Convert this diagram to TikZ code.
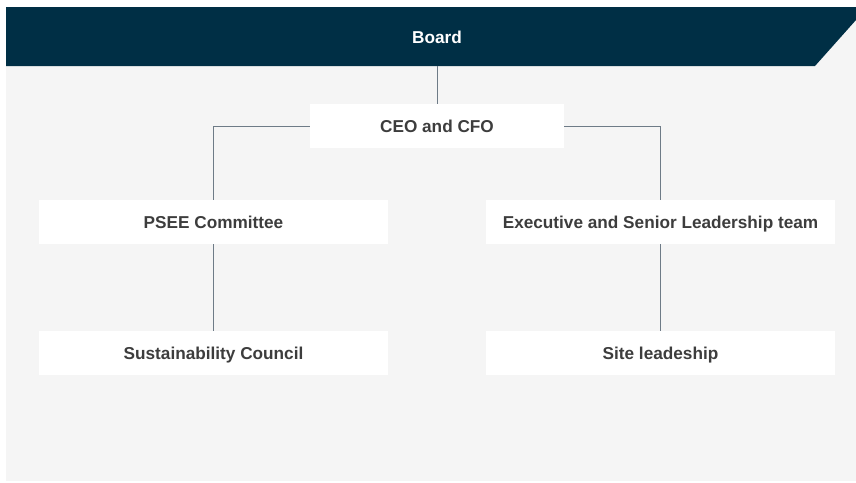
\documentclass[tikz,border=0pt]{standalone}
\usepackage{fontspec}
\setmainfont{Liberation Sans}
\definecolor{navy}{HTML}{002F45}
\definecolor{panel}{HTML}{F5F5F5}
\definecolor{linkline}{HTML}{6E7B87}
\definecolor{labeltext}{HTML}{3D3D3D}
\begin{document}
\begin{tikzpicture}[x=1pt,y=-1pt,
  label font/.style={font=\fontsize{17.2}{20}\selectfont\bfseries,
    text height=12.3pt, text depth=0pt},
  orgbox/.style={rectangle, fill=white, draw=none, minimum height=44pt,
    inner sep=0pt, text=labeltext, label font},
  wide/.style={orgbox, minimum width=349pt},
  link/.style={draw=linkline, line width=0.9pt}]
  \useasboundingbox (0,0) rectangle (856,482);
  % light panel
  \fill[panel] (6,7) rectangle (856,481);
  % banner with a cut top-right corner
  \fill[navy] (6,7) -- (856,7) -- (856,20) -- (815,66) -- (6,66) -- cycle;
  \node[text=white, inner sep=0pt, label font] (board) at (437,37) {Board};
  \coordinate (boardbase) at (437,66);
  % boxes
  \node[orgbox, minimum width=254pt] (ceo) at (437,126) {CEO and CFO};
  \node[wide] (psee) at (213.5,222) {PSEE Committee};
  \node[wide] (exec) at (660.5,222) {Executive and Senior Leadership team};
  \node[wide] (sust) at (213.5,353) {Sustainability Council};
  \node[wide] (site) at (660.5,353) {Site leadeship};
  % connectors
  \draw[link] (boardbase) -- (ceo.north);
  \draw[link] (ceo.west) -| (psee.north);
  \draw[link] (ceo.east) -| (exec.north);
  \draw[link] (psee.south) -- (sust.north);
  \draw[link] (exec.south) -- (site.north);
\end{tikzpicture}
\end{document}
